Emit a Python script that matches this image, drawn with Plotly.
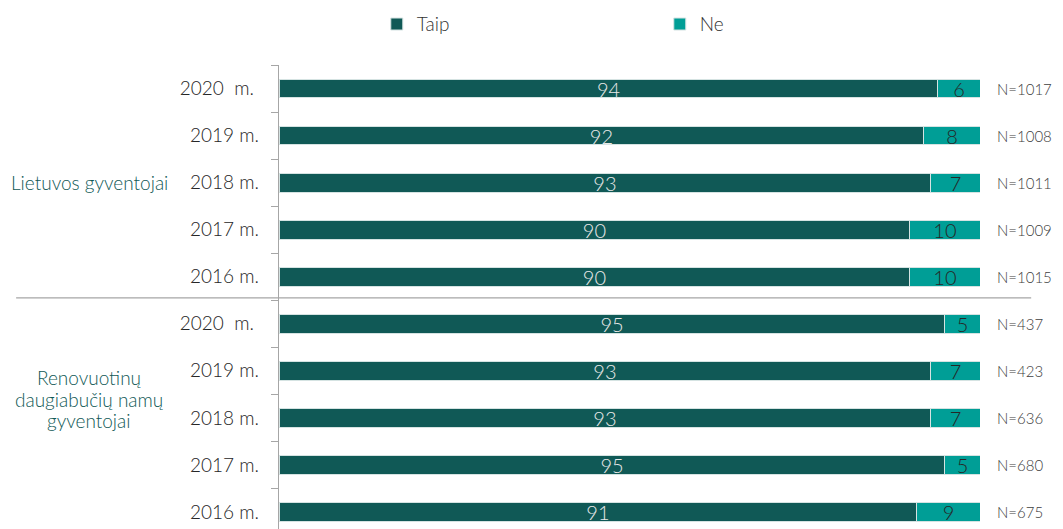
import plotly.graph_objects as go

# ---- data ----
years = ["2020\u00a0\u00a0m.\u00a0", "2019 m.", "2018 m.", "2017 m.", "2016 m."]
group_lt = "Lietuvos gyventojai"
group_rn = ["Renovuotinų", "daugiabučių namų", "gyventojai"]
taip_lt = [94, 92, 93, 90, 90]
ne_lt = [6, 8, 7, 10, 10]
n_lt = [1017, 1008, 1011, 1009, 1015]
taip_rn = [95, 93, 93, 95, 91]
ne_rn = [5, 7, 7, 5, 9]
n_rn = [437, 423, 636, 680, 675]

labels = years + years
taip = taip_lt + taip_rn
ne = ne_lt + ne_rn
ns = n_lt + n_rn
pos = list(range(len(labels) - 1, -1, -1))  # top to bottom

C_TAIP = "#105956"
C_NE = "#009e96"
FONT = "Lato"

fig = go.Figure()
fig.add_trace(go.Bar(
    name="Taip", y=pos, x=taip, orientation="h",
    marker=dict(color=C_TAIP, line=dict(color="#d5e3e2", width=1)),
    text=[str(v) for v in taip], textposition="inside", insidetextanchor="middle",
    textangle=0, constraintext="none",
    textfont=dict(family=FONT, size=20, color="#e8e8e8", weight=300),
))
fig.add_trace(go.Bar(
    name="Ne", y=pos, x=ne, orientation="h",
    marker=dict(color=C_NE, line=dict(color="#d5e3e2", width=1)),
    text=[str(v) for v in ne], textposition="inside", insidetextanchor="middle",
    textangle=0, constraintext="none",
    textfont=dict(family=FONT, size=20, color="#262626", weight=300),
))

# N labels
for p, n in zip(pos, ns):
    fig.add_annotation(x=100, y=p, xref="x", yref="y", text=f"N={n}",
                       showarrow=False, xanchor="left", xshift=15,
                       font=dict(family=FONT, size=15, color="#404040", weight=300))

# group labels
fig.add_annotation(x=-0.271, y=pos[2], xref="paper", yref="y", text=group_lt,
                   showarrow=False, xanchor="center",
                   font=dict(family=FONT, size=19, color=C_TAIP, weight=300))
for i, line in enumerate(group_rn):
    fig.add_annotation(x=-0.271, y=2.4, xref="paper", yref="y", text=line,
                       showarrow=False, xanchor="center", yshift=21.5 * (1 - i),
                       font=dict(family=FONT, size=19, color=C_TAIP, weight=300))

# separator line between groups
fig.add_shape(type="line", xref="paper", yref="y", x0=-0.375, x1=1.073,
              y0=4.55, y1=4.55, line=dict(color="#a6a6a6", width=1.3))

# page body has an 8px margin; figure sized/offset to compensate
fig.update_layout(
    width=1047, height=521,
    margin=dict(l=271, r=75, t=57, b=0, autoexpand=False),
    barmode="stack", bargap=0.6,
    plot_bgcolor="white", paper_bgcolor="white",
    font=dict(family=FONT, color="#262626"),
    showlegend=True,
    legend=dict(orientation="h", x=0.1395, xanchor="left", y=1.088, yanchor="middle",
                traceorder="normal",
                entrywidth=238, entrywidthmode="pixels",
                font=dict(family=FONT, size=19, color="#333333", weight=300),
                itemclick=False),
    xaxis=dict(range=[0, 100], visible=False, fixedrange=True),
    yaxis=dict(range=[-0.362, len(labels) - 0.5], tickmode="array", tickvals=pos,
               ticktext=labels, ticks="", showline=True, linecolor="#a6a6a6",
               linewidth=1.3, showgrid=False, zeroline=False,
               ticklabelstandoff=15, ticklabeloverflow="allow",
               tickfont=dict(family=FONT, size=19, color="#262626", weight=300),
               minor=dict(ticks="outside", ticklen=7, tickcolor="#a6a6a6",
                          tickwidth=1.3, tick0=0.5, dtick=1, showgrid=False)),
)

fig.write_html("out.html")
